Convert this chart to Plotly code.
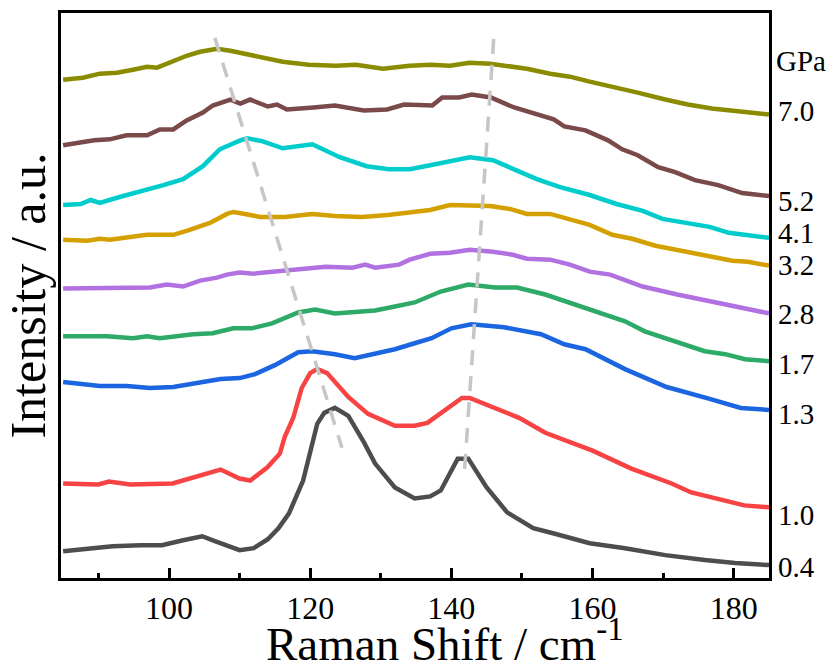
import plotly.graph_objects as go

# ---- data (Raman shift in cm-1, offset intensity in a.u.) ----
x_04 = [85, 88, 92, 96, 99, 102, 104.7, 106.5, 110, 112, 114, 115.5, 117, 119, 121, 122, 123.5, 125.4, 127.5, 129.2, 132, 134.8, 137, 138.5, 140.9, 142.4, 145, 147.9, 151.6, 154.4, 159.6, 164.6, 170.3, 175.9, 180.2, 185]
y_04 = [27, 29, 32, 33, 33, 38, 42, 37, 28, 30, 39, 50, 65, 98, 155, 166, 171, 163, 138, 115, 91, 80, 82, 88, 120, 120, 91, 66, 50, 45, 35, 30, 23, 18, 15, 13]

x_10 = [85, 90, 91.5, 94.5, 100.5, 103.4, 107.3, 110, 111.5, 113.9, 115.7, 116.4, 117.6, 118.8, 120, 121, 122.4, 125.4, 128.2, 132, 134.8, 136.6, 139.5, 141.5, 142.6, 146.2, 149.6, 153.3, 156.1, 160, 165.5, 171.2, 174, 177.7, 181.5, 185]
y_10 = [95, 94, 97, 94, 95, 101, 109, 100, 98, 111, 125, 142, 161, 191, 206, 210, 206, 182, 165, 153, 153, 156, 171, 181, 181, 171, 161, 146, 138, 128, 110, 95, 86, 80, 73, 71]

x_13 = [85, 88.4, 90.2, 94, 97.3, 100.6, 104.4, 107.3, 110, 112.2, 115, 118.3, 120.3, 123.5, 126.3, 129.2, 132, 134.8, 137.2, 140, 142.8, 147.5, 152.7, 156, 159, 164.6, 170.5, 176.6, 181, 185]
y_13 = [197, 195, 193, 193, 191, 192, 196, 200, 201, 205, 214, 227, 228, 225, 221, 225, 230, 236, 241, 251, 255, 252, 245, 235, 230, 210, 192, 180, 171, 169]

x_17 = [85, 91.2, 94.9, 96.9, 98.7, 103.4, 106.2, 109.1, 111.7, 114.6, 118.3, 120.7, 123.5, 126.3, 129.2, 132, 134.8, 138.5, 142.4, 146.2, 149.3, 153.3, 158, 161.8, 164.6, 167.4, 170.3, 173.1, 175.9, 178.8, 181.6, 185]
y_17 = [243, 243, 241, 243, 241, 245, 246, 251, 251, 256, 267, 270, 266, 267, 269, 273, 277, 288, 295, 292, 292, 285, 274, 264, 258, 248, 241, 235, 228, 225, 220, 218]

x_28 = [85, 91.6, 97.3, 99.7, 102, 104.4, 106.8, 108.2, 110, 112, 118.6, 122.2, 126, 127.8, 129.2, 132.6, 134.1, 137, 139.8, 142.6, 145.9, 148.7, 150.7, 154, 156.8, 159.6, 162.5, 167.1, 172, 176.6, 181.3, 185]
y_28 = [291, 292, 292, 295, 293, 299, 302, 305, 307, 306, 310, 313, 312, 315, 312, 315, 320, 326, 327, 330, 328, 325, 321, 320, 315, 308, 305, 293, 285, 278, 271, 266]

x_32 = [85, 88.4, 90.2, 91.6, 96.9, 100.6, 102.5, 105.8, 108.2, 109.1, 110, 112.9, 116.4, 120.3, 123.5, 127.3, 131, 134.1, 137, 139.8, 142.6, 145.5, 148.3, 150.7, 154, 156.8, 159.6, 162.8, 165.6, 168.9, 172.7, 176.4, 179.8, 182, 185]
y_32 = [340, 339, 341, 340, 345, 345, 349, 357, 366, 368, 367, 363, 363, 366, 364, 363, 365, 368, 370, 375, 375, 374, 371, 366, 366, 361, 355, 345, 341, 334, 329, 323, 319, 318, 314]

x_41 = [85, 87.5, 88.9, 90.2, 93, 96.9, 99.2, 102, 104.8, 107.2, 109.1, 110.1, 111.1, 113.3, 116.1, 120.3, 124.2, 128, 131.2, 134.1, 137, 139.8, 142.6, 145.9, 148.7, 152.1, 155.4, 159.6, 163.4, 167.1, 169.9, 173.7, 176.6, 179.3, 182.2, 185]
y_41 = [375, 376, 380, 377, 383, 390, 395, 401, 414, 431, 437, 440, 442, 439, 432, 436, 423, 414, 411, 411, 415, 419, 423, 420, 411, 401, 393, 385, 376, 369, 361, 356, 353, 347, 345, 342]

x_52 = [85, 89.4, 91.6, 94, 96.9, 98.7, 100.6, 102.5, 104.8, 106.2, 108.7, 110.1, 111.5, 114, 115.3, 116.7, 120.5, 123.5, 127.6, 130.9, 133.3, 134.8, 137.3, 138.7, 141.1, 142.9, 145.6, 148.9, 152.3, 154.5, 156, 159, 162.2, 164.2, 166.4, 169.3, 171.7, 174.5, 177.8, 181.2, 185]
y_52 = [435, 440, 441, 445, 445, 451, 451, 460, 468, 475, 481, 477, 481, 474, 476, 471, 473, 475, 470, 471, 476, 476, 475, 483, 483, 486, 483, 473, 465, 461, 454, 450, 440, 431, 425, 413, 408, 400, 395, 387, 384]

x_70 = [85, 87.8, 90.2, 92.6, 94.9, 96.9, 98.3, 100.6, 102.5, 104.4, 106.8, 108.7, 110.1, 114.1, 116.1, 119.8, 123.6, 126.5, 130.3, 134.1, 137, 139.8, 142.6, 145.5, 148.3, 150.7, 154, 156.8, 159.6, 162.8, 166.4, 170.3, 173.5, 176.9, 180.5, 185]
y_70 = [501, 503, 507, 508, 511, 514, 513, 520, 525, 529, 532, 530, 528, 523, 519, 516, 515, 516, 512, 515, 516, 515, 518, 517, 514, 512, 507, 504, 499, 494, 488, 481, 476, 472, 469, 466]

# dashed guide lines (peak shift guides)
guide1_x = [106.5, 124.5]
guide1_y = [543, 131]
guide2_x = [146.0, 141.8]
guide2_y = [542, 101]

pressures = ["0.4", "1.0", "1.3", "1.7", "2.8", "3.2", "4.1", "5.2", "7.0"]
label_y = [11, 63, 165, 215, 265, 315, 347, 379, 469]
unit_label = "GPa"
unit_label_y = 520

x_title = "Raman Shift / cm<sup>-1</sup>"
y_title = "Intensity / a.u."

series_x = [x_04, x_10, x_13, x_17, x_28, x_32, x_41, x_52, x_70]
series_y = [y_04, y_10, y_13, y_17, y_28, y_32, y_41, y_52, y_70]
colors = ["#4d4d4d", "#f74343", "#1b66e0", "#2eaa68", "#b171e0", "#d4a000", "#00cccc", "#7a4949", "#8b8b00"]

fig = go.Figure()
for xs, ys, c, p in zip(series_x, series_y, colors, pressures):
    fig.add_trace(go.Scatter(x=xs, y=ys, mode="lines", name=p,
                             line=dict(color=c, width=4.5), showlegend=False))

for gx, gy in [(guide1_x, guide1_y), (guide2_x, guide2_y)]:
    fig.add_trace(go.Scatter(x=gx, y=gy, mode="lines", showlegend=False,
                             line=dict(color="#c6c6c6", width=3.5, dash="15px,11px")))

serif = "Liberation Serif"
annots = []
for p, yy in zip(pressures, label_y):
    annots.append(dict(x=1, xref="paper", y=yy, yref="y", text=p, showarrow=False,
                       xanchor="left", yanchor="middle", xshift=7,
                       font=dict(family=serif, size=29, color="black")))
annots.append(dict(x=1, xref="paper", y=unit_label_y, yref="y", text=unit_label, showarrow=False,
                   xanchor="left", yanchor="middle", xshift=5,
                   font=dict(family=serif, size=29, color="black")))
# x-axis title (offset to the right as in the original)
annots.append(dict(x=0.542, xref="paper", y=0, yref="paper", text=x_title, showarrow=False,
                   xanchor="center", yanchor="top", yshift=-31,
                   font=dict(family=serif, size=47, color="black")))

fig.update_layout(
    width=831, height=671,
    margin=dict(l=61, r=62, t=10, b=93),
    paper_bgcolor="white", plot_bgcolor="white",
    annotations=annots,
    font=dict(family=serif, color="black"),
)
fig.update_xaxes(
    range=[84.7, 185], showgrid=False, zeroline=False,
    showline=True, linecolor="black", linewidth=3, mirror=True,
    ticks="inside", ticklen=10, tickwidth=3, tickcolor="black",
    tickvals=[100, 120, 140, 160, 180],
    minor=dict(ticks="inside", ticklen=5, tickwidth=3, tickcolor="black", tickvals=[90, 110, 130, 150, 170]),
    tickfont=dict(family=serif, size=32, color="black"),
)
fig.update_yaxes(
    range=[0, 568], showgrid=False, zeroline=False,
    showline=True, linecolor="black", linewidth=3, mirror=True,
    ticks="", showticklabels=False,
    title=dict(text=y_title, font=dict(family=serif, size=50, color="black"), standoff=8),
)

fig.write_html("out.html")
